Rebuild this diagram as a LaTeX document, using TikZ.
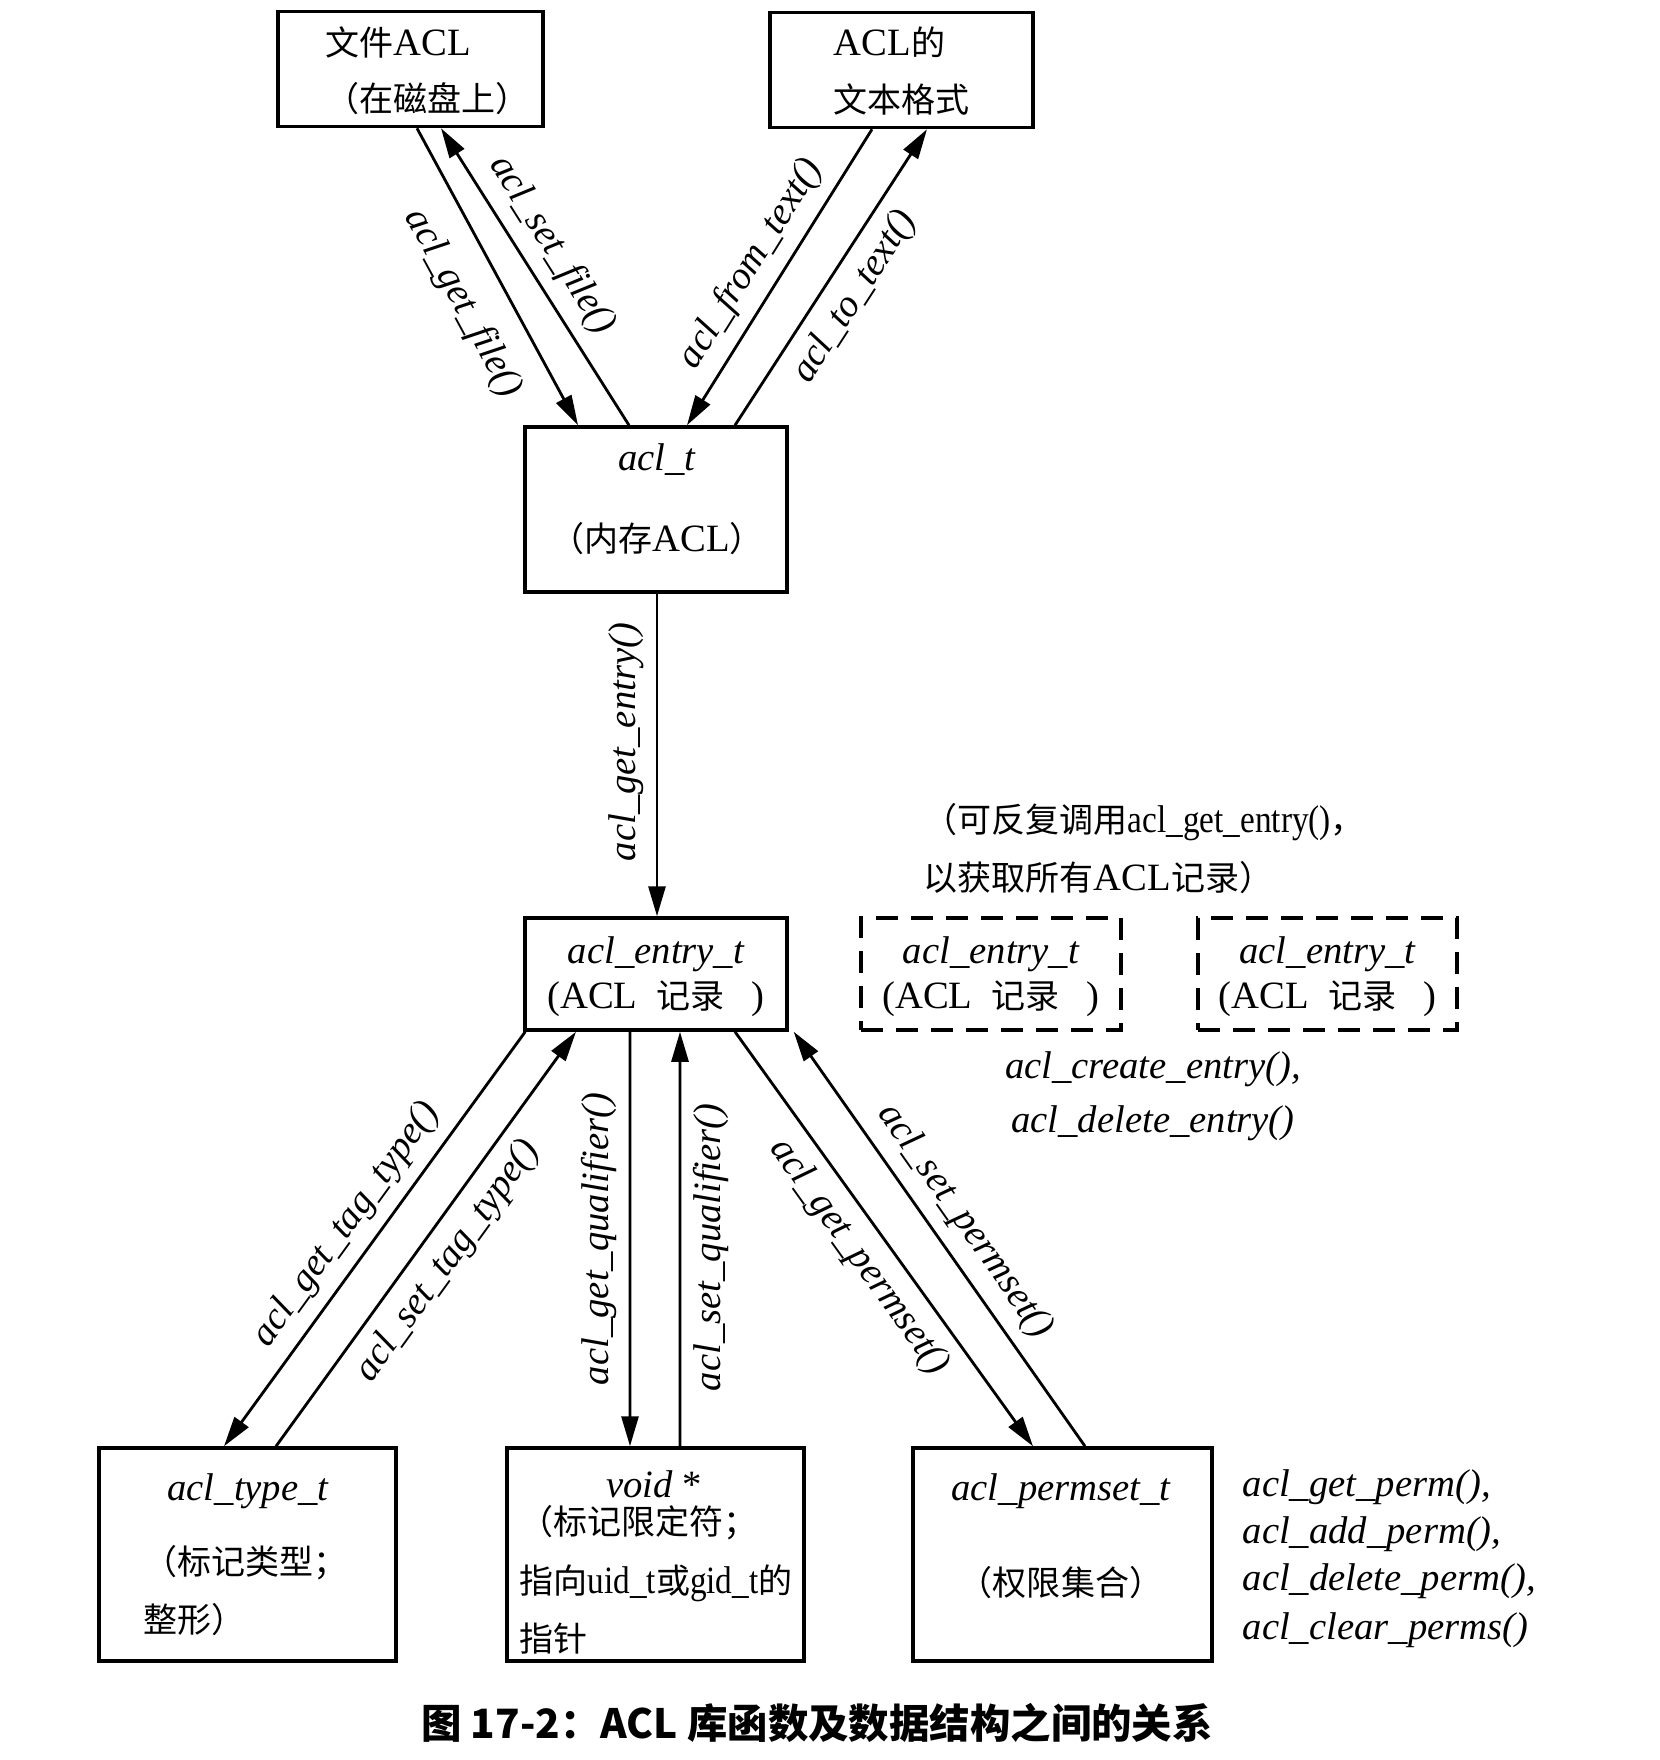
\documentclass[tikz,border=0pt]{standalone}
\usepackage{fontspec}
\setmainfont{Liberation Serif}
\newfontfamily\narrowserif[FakeStretch=0.86]{Liberation Serif}
\newfontfamily\cjk[Scale=0.88]{Noto Sans CJK SC}
\newfontfamily\capfont{Noto Sans CJK SC}
\usepackage{tikz}
\usetikzlibrary{arrows.meta, positioning, calc}
\tikzset{
  box/.style={rectangle, draw=black, line width=1pt, inner sep=0pt},
  dashbox/.style={rectangle, draw=black, line width=1.2pt, inner sep=0pt,
    dash pattern=on 2.2mm off 1.3mm},
  txt/.style={inner sep=0pt, font=\fontsize{11}{13}\selectfont},
  fn/.style={inner sep=0pt, font=\fontsize{11}{13}\selectfont\itshape},
  lbl/.style={font=\fontsize{11}{13}\selectfont\itshape, inner sep=1.2mm},
  arrow/.style={-{Triangle[length=3mm,width=1.7mm]}, line width=0.8pt},
  line/.style={line width=0.8pt}
}

\begin{document}
\begin{tikzpicture}
  \useasboundingbox (0,0) rectangle (16.6,-17.6);

  % Top boxes
  \node[box, minimum width=2.65cm, minimum height=1.15cm] (fileacl) at (4.105,-0.69) {};
  \node[box, minimum width=2.63cm, minimum height=1.15cm] (textfmt) at (9.015,-0.70) {};
  \node[txt, anchor=west] (fileacl1) at (3.25,-0.42) {{\cjk 文件}ACL};
  \node[txt, anchor=west] (fileacl2) at (3.25,-0.99) {{\cjk （在磁盘上）}};
  \node[txt, anchor=west] (textfmt1) at (8.33,-0.42) {ACL{\cjk 的}};
  \node[txt, anchor=west] (textfmt2) at (8.33,-0.99) {{\cjk 文本格式}};

  % In-memory ACL
  \node[box, minimum width=2.62cm, minimum height=1.65cm] (memacl) at (6.56,-5.095) {};
  \node[fn] (memacl1) at (6.57,-4.60) {acl\_t};
  \node[txt] (memacl2) at (6.57,-5.39) {{\cjk （内存}ACL{\cjk ）}};

  % Entries
  \node[box, minimum width=2.62cm, minimum height=1.12cm] (entry) at (6.56,-9.74) {};
  \node[dashbox, minimum width=2.60cm, minimum height=1.12cm] (entryb) at (9.91,-9.74) {};
  \node[dashbox, minimum width=2.59cm, minimum height=1.12cm] (entryc) at (13.275,-9.74) {};
  \node[fn] (entry1) at (entry.center |- 0,-9.54) {acl\_entry\_t};
  \node[txt] (entry2) at (entry.center |- 0,-9.99) {(ACL\hspace{0.5em}{\cjk 记录}\hspace{0.7em})};
  \node[fn] (entryb1) at (entryb.center |- 0,-9.54) {acl\_entry\_t};
  \node[txt] (entryb2) at (entryb.center |- 0,-9.99) {(ACL\hspace{0.5em}{\cjk 记录}\hspace{0.7em})};
  \node[fn] (entryc1) at (entryc.center |- 0,-9.54) {acl\_entry\_t};
  \node[txt] (entryc2) at (entryc.center |- 0,-9.99) {(ACL\hspace{0.5em}{\cjk 记录}\hspace{0.7em})};

  % Bottom boxes
  \node[box, minimum width=2.97cm, minimum height=2.13cm] (typet) at (2.475,-15.545) {};
  \node[box, minimum width=2.97cm, minimum height=2.13cm] (voidp) at (6.555,-15.545) {};
  \node[box, minimum width=2.99cm, minimum height=2.13cm] (permset) at (10.625,-15.545) {};
  \node[fn] (typet1) at (2.48,-14.91) {acl\_type\_t};
  \node[txt, anchor=west] (typet2) at (1.43,-15.63) {{\cjk （标记类型；}};
  \node[txt, anchor=west] (typet3) at (1.43,-16.20) {{\cjk 整形）}};
  \node[txt] (voidp1) at (6.54,-14.84) {\textit{void} *};
  \node[txt, anchor=west] (voidp2) at (5.19,-15.23) {{\cjk （标记限定符；}};
  \node[txt, anchor=west] (voidp3) at (5.19,-15.83) {{\cjk 指向}{\narrowserif uid\_t}{\cjk 或}{\narrowserif gid\_t}{\cjk 的}};
  \node[txt, anchor=west] (voidp4) at (5.19,-16.39) {{\cjk 指针}};
  \node[fn] (permset1) at (10.61,-14.91) {acl\_permset\_t};
  \node[txt] (permset2) at (10.61,-15.83) {{\cjk （权限集合）}};

  % Notes
  \node[txt, anchor=west] (note1) at (9.23,-8.22) {{\cjk （可反复调用}{\narrowserif acl\_get\_entry()}{\cjk ，}};
  \node[txt, anchor=west] (note2) at (9.23,-8.78) {{\cjk 以获取所有}ACL{\cjk 记录）}};
  \node[fn, align=center] (entryfn) at (11.53,-10.96) {acl\_create\_entry(),\\[0.8mm] acl\_delete\_entry()};
  \node[fn, anchor=west] (perm1) at (12.42,-14.87) {acl\_get\_perm(),};
  \node[fn, anchor=west] (perm2) at (12.42,-15.34) {acl\_add\_perm(),};
  \node[fn, anchor=west] (perm3) at (12.42,-15.81) {acl\_delete\_perm(),};
  \node[fn, anchor=west] (perm4) at (12.42,-16.30) {acl\_clear\_perms()};

  % Arrows between top boxes and acl_t
  \draw[arrow] ([xshift=0.65mm]fileacl.south) -- ([xshift=-7.8mm]memacl.north)
    node[lbl, pos=0.52, sloped, below, inner sep=2.4mm] {acl\_get\_file()};
  \draw[arrow] ([xshift=-2.7mm]memacl.north) -- ([xshift=3.05mm]fileacl.south)
    node[lbl, pos=0.55, sloped, above] {acl\_set\_file()};
  \draw[arrow] ([xshift=-2.95mm]textfmt.south) -- ([xshift=3.1mm]memacl.north)
    node[lbl, pos=0.51, sloped, above] {acl\_from\_text()};
  \draw[arrow] ([xshift=7.9mm]memacl.north) -- ([xshift=2.55mm]textfmt.south)
    node[lbl, pos=0.49, sloped, below] {acl\_to\_text()};

  % acl_t to entry
  \draw[arrow] ([xshift=0.1mm]memacl.south) -- ([xshift=0.1mm]entry.north)
    node[lbl, pos=0.46, rotate=90, above] {acl\_get\_entry()};

  % Entry to its parts
  \draw[arrow] ([xshift=0.2mm]entry.south west) -- ([xshift=-2.35mm]typet.north)
    node[lbl, pos=0.51, sloped, above] {acl\_get\_tag\_type()};
  \draw[arrow] ([xshift=2.85mm]typet.north) -- ([xshift=-8mm]entry.south)
    node[lbl, pos=0.49, sloped, below] {acl\_set\_tag\_type()};
  \draw[arrow] ([xshift=-2.6mm]entry.south) -- ([xshift=-2.55mm]voidp.north)
    node[lbl, pos=0.5, rotate=90, above] {acl\_get\_qualifier()};
  \draw[arrow] ([xshift=2.45mm]voidp.north) -- ([xshift=2.4mm]entry.south)
    node[lbl, pos=0.48, rotate=90, below] {acl\_set\_qualifier()};
  \draw[arrow] ([xshift=7.9mm]entry.south) -- ([xshift=-2.95mm]permset.north)
    node[lbl, pos=0.50, sloped, below] {acl\_get\_permset()};
  \draw[arrow] ([xshift=2.25mm]permset.north) -- ([xshift=0.5mm]entry.south east)
    node[lbl, pos=0.50, sloped, above] {acl\_set\_permset()};

  % Caption
  \node[inner sep=0pt, font=\fontsize{11.5}{14}\selectfont\capfont\bfseries] (caption) at (8.17,-17.23)
    {图 17-2：ACL 库函数及数据结构之间的关系};
\end{tikzpicture}
\end{document}
